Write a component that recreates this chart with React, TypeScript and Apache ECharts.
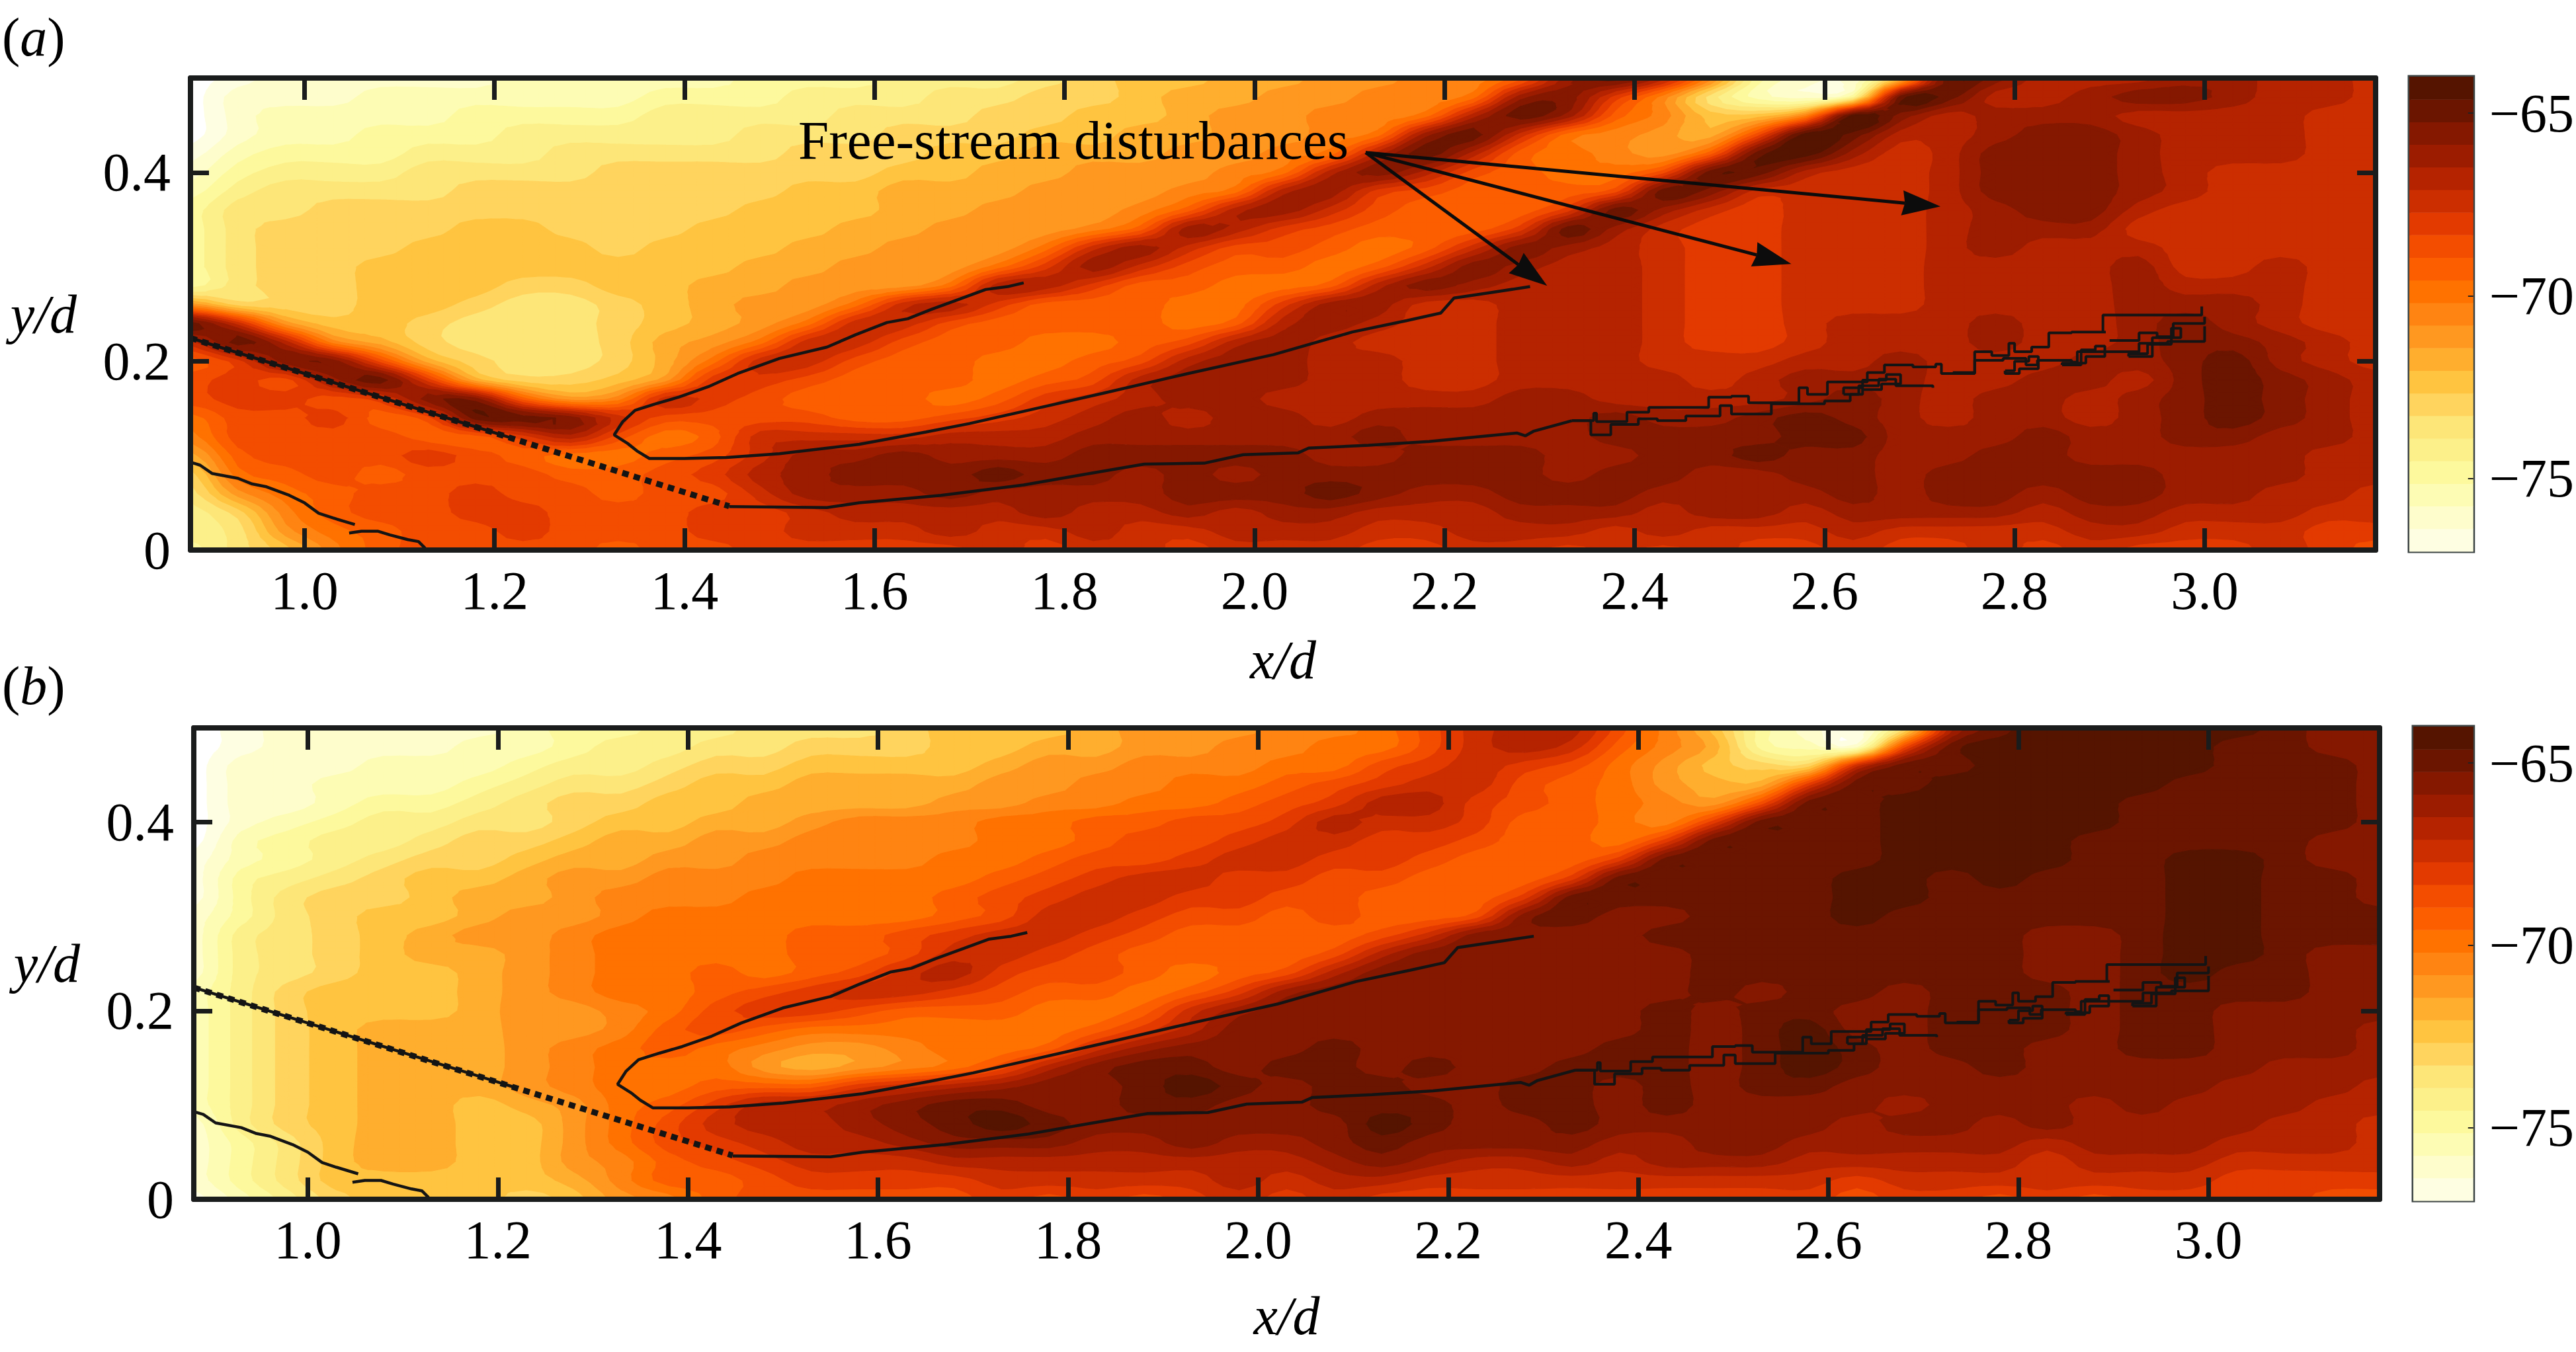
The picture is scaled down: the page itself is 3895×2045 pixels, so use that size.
import React, { useEffect, useRef } from "react";
import * as echarts from "echarts";

const FONT = "'Liberation Serif', 'Times New Roman', serif";
const FS = 82;

// Colour bands, palest first: each band is 13/21 dB wide between -77 and -64
const bandColors = ["#fefee2","#fefdcc","#fdfcb4","#fdf99d","#fcf08a","#fde678","#ffd45e","#ffc440","#ffae2e","#ff9820","#ff8412","#ff7200","#fc5e00","#f34d00","#e33a00","#cc2e00","#b52300","#9c1c00","#851800","#6b1500","#551400"];
const barMin = -77;
const barMax = -64;

const xTicks = [1.0,1.2,1.4,1.6,1.8,2.0,2.2,2.4,2.6,2.8,3.0];
const yTicks = [0,0.2,0.4];
const barTicks = [-75,-70,-65];

// Grid columns x/d = 0.88 + 0.05 i, rows y/d = 0.50, 0.48 ... 0.00; cells hold the band (-1 = white)
const xStart = 0.88, xStep = 0.05, yTop = 0.5, yStep = 0.02;

const panelA = [
[-1,0,1,1,1,1,1,2,2,2,2,2,3,3,3,4,4,4,5,6,7,7,8,8,9,9,10,10,12,17,19,16,10,3,1,1,7,19,18,16,16,16,17,17,16,16,15],
[-1,1,1,1,2,2,2,2,2,2,3,3,3,4,4,4,5,5,6,6,7,8,8,9,9,10,10,11,17,18,14,10,5,2,1,3,19,19,16,16,17,18,18,17,16,16,15],
[-1,1,2,2,2,2,3,3,3,3,4,4,4,4,5,5,5,6,6,7,7,8,9,9,10,10,11,16,19,17,12,10,7,7,10,20,18,16,17,17,17,16,16,16,16,15,15],
[-1,1,2,2,3,3,3,4,4,4,4,4,5,5,5,6,6,6,7,7,8,8,9,9,10,11,17,19,15,11,10,9,8,13,20,19,16,16,17,18,18,17,16,16,16,15,15],
[0,2,3,3,3,4,4,4,5,5,5,5,5,6,6,6,7,7,8,8,8,9,9,10,11,16,19,16,12,11,10,9,12,19,20,17,15,16,18,18,18,17,16,16,16,15,15],
[1,3,4,4,4,5,5,5,5,6,6,6,6,6,6,7,7,8,8,9,9,9,10,11,16,18,16,13,12,11,11,13,19,19,16,15,15,16,18,18,18,17,16,15,15,15,15],
[2,4,5,5,5,5,6,6,6,6,6,6,6,7,7,8,8,8,9,9,9,10,11,16,17,14,13,12,12,12,13,19,18,15,15,15,15,16,18,18,18,17,16,15,15,15,15],
[3,5,5,6,6,6,6,6,6,6,6,6,7,7,7,8,8,9,9,9,10,12,16,17,15,13,12,12,12,14,19,17,15,14,15,15,15,16,17,18,18,16,15,15,15,15,15],
[3,5,6,6,6,6,7,7,6,6,6,7,7,7,8,8,9,9,9,10,12,17,16,14,13,12,12,12,14,19,17,15,14,14,15,15,15,16,17,17,17,15,15,15,15,15,15],
[3,5,6,6,6,7,7,7,7,6,7,7,7,8,8,9,9,9,11,15,17,15,13,13,12,11,12,15,18,17,16,15,14,14,15,15,15,16,17,16,16,16,15,15,15,15,15],
[3,5,6,6,7,7,7,7,7,7,7,7,8,8,9,9,9,11,14,17,15,13,12,12,11,12,15,18,17,16,16,15,14,14,15,15,15,16,16,16,16,17,15,15,16,15,15],
[3,5,6,6,7,7,7,6,6,7,7,8,8,9,9,9,11,16,16,14,12,12,11,11,12,16,18,17,16,16,16,15,14,14,15,15,15,16,16,16,16,17,16,16,16,15,15],
[9,6,6,6,7,7,6,5,5,6,7,8,9,9,11,15,16,14,12,12,12,11,11,14,17,17,15,15,16,16,16,15,14,14,15,15,15,16,16,16,16,17,17,17,16,15,15],
[19,15,9,7,7,6,5,5,5,6,7,8,9,11,15,15,13,12,12,12,12,11,12,16,17,16,15,15,16,16,16,15,14,14,15,16,16,16,17,16,16,17,18,17,16,15,15],
[15,19,16,10,8,6,5,5,5,6,8,9,11,15,15,13,12,12,11,11,12,13,16,17,16,15,15,15,16,16,16,15,14,14,15,16,16,16,17,16,16,17,18,18,17,16,15],
[12,14,18,18,13,8,6,5,5,6,8,11,15,15,13,12,12,11,11,12,13,16,17,17,16,16,15,15,16,16,16,15,15,15,16,16,17,16,16,16,17,17,18,19,17,16,15],
[13,14,13,17,19,14,8,6,6,7,9,14,14,13,12,12,12,11,12,13,16,17,17,17,16,16,15,15,16,16,16,16,15,16,17,17,17,16,16,17,17,16,18,19,18,17,16],
[13,14,14,13,14,18,18,12,9,10,15,14,13,12,12,12,11,12,14,15,16,17,17,16,16,16,16,16,17,17,16,16,16,16,17,18,17,16,17,17,16,17,18,19,18,17,16],
[11,13,13,14,12,13,19,19,18,15,13,13,13,13,12,12,13,14,15,16,17,16,17,17,16,17,17,17,17,17,18,17,17,18,19,18,17,16,17,17,16,17,18,19,18,17,16],
[10,13,13,13,13,12,12,14,16,13,11,12,15,15,15,15,16,16,16,17,17,17,17,17,17,18,17,17,17,17,18,18,18,18,19,19,17,17,17,18,17,17,18,18,17,17,16],
[8,12,13,13,13,14,13,12,11,11,12,13,15,17,17,18,17,17,17,18,18,18,18,18,17,17,18,18,18,17,17,18,18,19,18,18,17,17,18,18,17,17,17,17,17,16,16],
[6,11,12,13,12,13,13,13,12,12,13,14,16,17,18,18,18,19,18,18,17,18,17,18,18,18,18,18,18,17,18,18,17,17,18,18,17,18,18,18,18,18,17,17,17,16,16],
[5,9,11,12,13,13,14,13,13,12,13,13,15,17,17,17,18,17,17,17,17,18,18,18,19,18,17,17,18,18,18,17,17,17,17,18,17,18,18,17,18,18,17,17,16,16,15],
[4,6,10,12,13,13,14,14,13,13,13,14,14,15,16,16,16,16,17,16,16,17,16,17,17,16,16,16,17,17,17,16,17,17,16,17,17,17,17,16,17,17,16,16,16,15,15],
[4,5,9,11,12,13,13,14,13,13,13,14,14,15,15,15,16,15,15,16,15,15,16,16,16,15,15,16,16,16,15,16,15,15,15,16,15,15,15,15,16,16,15,15,15,14,14],
[3,5,7,10,12,13,13,13,13,12,13,13,14,14,14,14,14,15,14,15,15,14,15,15,15,14,14,15,15,14,15,14,15,14,14,15,14,14,15,14,15,14,14,14,15,14,13],
];

const panelB = [
[-1,0,1,1,1,1,1,2,3,3,4,4,5,5,5,6,7,7,7,8,9,9,9,10,10,11,13,15,16,16,13,10,7,3,1,0,5,16,19,20,20,20,20,20,19,18,18],
[-1,0,1,1,1,1,2,2,3,4,4,5,5,6,6,6,7,7,8,8,9,9,10,10,11,11,13,15,16,15,12,10,8,3,2,1,13,19,20,20,20,20,20,19,19,18,18],
[-1,1,1,1,2,2,2,3,4,4,5,6,6,7,7,7,7,8,9,9,10,10,10,11,11,13,14,15,14,13,11,9,7,6,6,15,19,19,20,20,20,20,20,19,19,19,18],
[-1,1,1,2,2,2,3,4,5,5,6,7,7,8,8,8,8,9,9,10,10,11,11,12,13,14,15,15,13,12,11,9,8,8,14,19,19,20,20,20,20,20,19,19,19,19,18],
[-1,1,1,2,3,3,4,5,6,6,7,7,8,8,8,8,9,9,10,10,11,11,12,13,14,16,16,14,13,12,11,10,9,13,19,19,20,20,20,20,20,19,19,19,19,19,18],
[-1,1,2,3,4,4,5,5,6,7,7,8,8,9,10,10,10,11,11,12,12,13,13,14,16,15,15,14,12,12,11,10,14,19,19,19,20,20,20,20,20,19,19,19,19,19,18],
[-1,2,3,4,4,5,6,6,7,8,8,9,9,10,10,10,10,11,11,12,13,13,14,15,15,14,14,13,12,12,11,14,19,19,19,19,20,20,20,20,19,19,19,19,19,18,18],
[0,2,3,4,5,6,6,7,8,8,9,9,10,10,10,10,11,11,12,13,13,14,15,15,14,14,13,12,12,12,14,19,19,19,19,19,20,20,20,20,19,19,20,20,19,18,18],
[0,3,4,5,6,7,7,8,9,9,10,10,10,11,11,11,11,12,13,14,15,15,14,14,13,13,12,12,12,14,19,19,19,19,19,20,20,19,20,19,19,19,20,20,19,19,18],
[0,3,5,6,6,7,8,8,9,10,10,10,11,11,11,11,12,13,14,15,15,14,14,13,13,12,12,12,14,19,19,19,19,19,19,20,20,19,19,19,19,19,20,20,19,19,18],
[1,3,5,6,7,7,8,9,9,10,11,11,11,11,11,11,12,13,15,15,14,13,13,12,13,12,12,13,18,19,18,18,19,19,19,20,19,19,19,19,19,19,20,20,19,19,19],
[1,4,5,6,7,8,9,9,10,11,11,11,11,12,12,13,14,15,15,14,13,12,12,12,12,13,15,18,18,18,18,19,19,19,19,19,19,19,19,18,18,19,20,20,19,19,19],
[1,4,5,6,7,8,8,9,10,11,11,11,11,12,12,13,15,15,14,13,12,12,12,12,13,16,18,18,18,18,18,18,19,19,19,19,19,19,19,18,18,19,20,20,19,18,18],
[1,4,5,6,7,7,8,9,10,11,11,12,11,12,13,15,16,14,13,13,12,11,12,13,16,18,18,18,18,18,18,18,19,19,19,19,19,19,19,18,18,19,20,19,19,18,18],
[2,4,6,7,7,7,8,9,10,11,11,12,13,14,15,15,14,13,12,12,11,12,14,17,18,18,18,18,18,18,18,18,19,18,19,19,18,19,19,19,18,19,19,19,19,18,18],
[2,4,6,7,7,7,8,9,9,10,11,13,14,14,13,12,12,12,11,11,12,15,17,18,18,18,18,18,18,18,18,19,18,19,19,18,18,19,19,19,18,19,19,18,18,18,18],
[2,4,6,7,8,8,8,9,9,10,12,13,12,11,11,11,11,11,11,12,14,16,18,18,18,18,18,18,18,18,18,19,18,19,20,18,18,19,19,19,18,19,19,18,18,18,17],
[2,4,6,7,8,8,8,9,10,11,12,11,10,9,9,10,11,11,12,15,17,18,18,18,19,18,18,18,18,18,19,19,18,19,20,19,18,19,19,18,18,19,19,18,18,18,17],
[2,4,6,7,8,8,8,9,10,11,11,11,9,8,9,10,11,13,16,18,19,19,18,19,19,18,19,18,18,19,19,19,18,19,20,19,18,18,19,18,18,18,18,18,17,17,17],
[2,4,6,7,8,8,8,9,10,11,11,12,12,12,14,15,16,17,18,18,19,20,19,18,19,19,18,18,19,19,18,19,18,19,19,18,18,18,18,18,18,18,18,17,17,17,16],
[2,4,6,7,8,8,7,8,9,11,12,14,16,16,17,18,19,19,18,18,19,19,18,18,19,19,19,18,19,19,18,19,18,18,18,18,17,18,18,18,17,18,17,17,17,16,16],
[1,4,6,7,8,8,7,7,9,11,13,15,16,16,17,18,19,20,19,18,18,18,18,18,18,20,19,18,18,19,18,18,18,18,18,17,18,18,17,18,17,17,17,17,16,16,15],
[1,3,5,7,8,8,7,7,9,11,13,14,15,16,16,17,18,18,18,17,17,18,17,17,18,19,18,18,18,18,17,17,18,18,17,17,17,17,17,16,17,17,17,16,16,16,15],
[1,3,5,7,8,8,7,7,9,10,12,13,14,15,15,15,16,16,16,16,16,16,16,16,17,18,17,16,16,17,16,17,17,17,16,16,16,16,16,15,16,16,16,15,15,15,15],
[1,3,5,7,7,7,7,7,8,10,12,12,13,14,14,14,14,15,15,15,15,15,16,15,16,16,15,15,15,15,15,15,15,15,15,14,15,15,15,15,15,15,15,14,14,14,14],
[0,2,4,6,7,7,7,6,7,9,10,12,13,13,13,13,13,14,13,14,13,14,15,14,15,14,14,14,14,14,14,14,14,14,14,13,14,14,13,14,13,14,14,14,14,13,13],
];

// Black contour traces, x/d and y/d
const traceShear = [[1.757,0.283],[1.74,0.279],[1.717,0.276],[1.69,0.266],[1.66,0.255],[1.635,0.245],[1.613,0.241],[1.58,0.228],[1.55,0.215],[1.50,0.203],[1.456,0.187],[1.425,0.173],[1.394,0.162],[1.37,0.155],[1.348,0.148],[1.335,0.136],[1.326,0.122],[1.34,0.113],[1.35,0.105],[1.363,0.097],[1.40,0.097],[1.444,0.098],[1.50,0.102],[1.584,0.112],[1.654,0.125],[1.70,0.134],[1.757,0.147],[1.84,0.166],[1.93,0.187],[2.02,0.207],[2.103,0.231],[2.16,0.243],[2.196,0.251],[2.21,0.267],[2.25,0.273],[2.29,0.279]];
const traceBody = [[1.447,0.046],[1.55,0.045],[1.584,0.05],[1.67,0.058],[1.757,0.069],[1.82,0.08],[1.884,0.091],[1.947,0.092],[1.988,0.101],[2.046,0.103],[2.057,0.108],[2.12,0.111],[2.184,0.115],[2.276,0.124],[2.285,0.121],[2.294,0.126],[2.334,0.137]];
const traceUpper = [[2.334,0.137],[2.357,0.145],[2.36,0.136],[2.392,0.146],[2.415,0.151],[2.454,0.151],[2.478,0.162],[2.502,0.163],[2.52,0.156],[2.544,0.156],[2.573,0.172],[2.582,0.165],[2.603,0.178],[2.633,0.178],[2.645,0.188],[2.663,0.196],[2.693,0.194],[2.717,0.197],[2.723,0.187],[2.741,0.187],[2.758,0.21],[2.776,0.206],[2.794,0.219],[2.8,0.21],[2.818,0.215],[2.836,0.23],[2.86,0.231],[2.896,0.231],[2.893,0.249],[2.949,0.249],[2.979,0.249],[2.997,0.258]];
const traceLower = [[2.334,0.137],[2.354,0.122],[2.375,0.133],[2.404,0.139],[2.424,0.137],[2.454,0.142],[2.472,0.142],[2.49,0.153],[2.502,0.144],[2.544,0.155],[2.6,0.158],[2.627,0.165],[2.636,0.174],[2.657,0.181],[2.675,0.174],[2.714,0.172]];
const traceLowerB = [[2.735,0.188],[2.758,0.201],[2.788,0.203],[2.812,0.196],[2.824,0.201],[2.86,0.199],[2.866,0.21],[2.913,0.21],[2.931,0.219],[2.961,0.221],[3.0,0.237]];
const traceLowerC = [[2.9,0.222],[2.931,0.23],[2.95,0.226],[2.967,0.24],[3.0,0.247]];
const traceLoopA = [[2.62,0.165],[2.64,0.18],[2.665,0.186],[2.68,0.176],[2.66,0.17],[2.64,0.172],[2.62,0.165]];
const traceLoopB = [[2.79,0.19],[2.8,0.2],[2.815,0.205],[2.825,0.192],[2.805,0.187],[2.79,0.19]];
const traceLoopC = [[2.85,0.196],[2.87,0.212],[2.885,0.216],[2.895,0.205],[2.875,0.198],[2.85,0.196]];
const traceLoopD = [[2.92,0.205],[2.945,0.225],[2.975,0.235],[2.965,0.218],[2.94,0.208],[2.92,0.205]];
const traceLeftA = [[0.88,0.093],[0.89,0.09],[0.903,0.081],[0.93,0.076],[0.945,0.07],[0.96,0.067],[0.984,0.058],[1.0,0.05],[1.015,0.039],[1.03,0.034],[1.053,0.027]];
const traceLeftB = [[1.047,0.018],[1.06,0.02],[1.077,0.02],[1.09,0.016],[1.109,0.011],[1.12,0.009],[1.127,0.002]];
const traceShock = [[0.88,0.2246],[1.22,0.118]];
const traceDotted = [[0.88,0.2246],[1.447,0.0465]];
const roughTraces = [traceUpper, traceLower, traceLowerB, traceLowerC, traceLoopA, traceLoopB, traceLoopC, traceLoopD];
const smoothTraces = [traceShear, traceBody, traceShock, traceLeftA, traceLeftB];

const arrowFrom = [2.117, 0.421];
const arrowTips = [[2.308,0.28],[2.565,0.303],[2.722,0.364]];

type P = [number, number, number];
type Ring = number[][];

// Contour rendering: Catmull-Rom through the table, then bands cut out of each triangle
const FINE = 3;
function cr(a: number, b: number, c: number, d: number, t: number) {
  return b + 0.5 * t * (c - a + t * (2 * a - 5 * b + 4 * c - d + t * (3 * (b - c) + d - a)));
}
function smoothField(rows: number[][]): number[][] {
  const R = rows.length, C = rows[0].length;
  const at = (r: number, c: number) => rows[Math.max(0, Math.min(R - 1, r))][Math.max(0, Math.min(C - 1, c))];
  const out: number[][] = [];
  for (let fr = 0; fr <= (R - 1) * FINE; fr++) {
    const r0 = Math.min(Math.floor(fr / FINE), R - 2), tr = fr / FINE - r0;
    const line: number[] = [];
    for (let fc = 0; fc <= (C - 1) * FINE; fc++) {
      const c0 = Math.min(Math.floor(fc / FINE), C - 2), tc = fc / FINE - c0;
      const col = [-1, 0, 1, 2].map((dr) => cr(at(r0 + dr, c0 - 1), at(r0 + dr, c0), at(r0 + dr, c0 + 1), at(r0 + dr, c0 + 2), tc));
      line.push(cr(col[0], col[1], col[2], col[3], tr));
    }
    out.push(line);
  }
  return out;
}

function clip(poly: P[], limit: number, keepAbove: boolean): P[] {
  const out: P[] = [];
  for (let i = 0; i < poly.length; i++) {
    const a = poly[i], b = poly[(i + 1) % poly.length];
    const ina = keepAbove ? a[2] >= limit : a[2] <= limit;
    const inb = keepAbove ? b[2] >= limit : b[2] <= limit;
    if (ina) out.push(a);
    if (ina !== inb) {
      const t = (limit - a[2]) / (b[2] - a[2]);
      out.push([a[0] + t * (b[0] - a[0]), a[1] + t * (b[1] - a[1]), limit]);
    }
  }
  return out;
}

function bandRings(rows: number[][]): Ring[][] {
  const fine = smoothField(rows);
  const bands: Ring[][] = bandColors.map(() => []);
  const dx = xStep / FINE, dy = yStep / FINE;
  const node = (r: number, c: number): P => [xStart + dx * c, yTop - dy * r, fine[r][c]];
  const top = bandColors.length - 1;
  const idx = (v: number) => Math.round(Math.min(v, top));
  const addPoly = (t: P[]) => {
    const vals = t.map((p) => p[2]);
    const lo = idx(Math.min(...vals));
    const hi = idx(Math.max(...vals));
    for (let k = Math.max(lo, 0); k <= hi; k++) {
      let poly = t;
      if (lo !== hi) {
        if (k > lo) poly = clip(poly, k - 0.5, true);
        if (poly.length && k < hi) poly = clip(poly, k + 0.5, false);
      }
      if (poly.length >= 3) bands[k].push(poly.map((p) => [p[0], p[1]]));
    }
  };
  for (let r = 0; r < fine.length - 1; r++) {
    for (let c = 0; c < fine[0].length - 1; c++) {
      const a = node(r, c), b = node(r, c + 1), d = node(r + 1, c), e = node(r + 1, c + 1);
      const ka = idx(a[2]);
      if (ka === idx(b[2]) && ka === idx(d[2]) && ka === idx(e[2])) {
        addPoly([a, b, e, d]);
      } else if (Math.abs(a[2] - e[2]) <= Math.abs(b[2] - d[2])) {
        addPoly([a, b, e]);
        addPoly([a, e, d]);
      } else {
        addPoly([a, b, d]);
        addPoly([b, e, d]);
      }
    }
  }
  return bands;
}

const ringsA = bandRings(panelA);
const ringsB = bandRings(panelB);

echarts.graphic.registerShape(
  "bandArea",
  echarts.graphic.extendShape({
    shape: { rings: [] as number[][][] },
    buildPath(ctx: any, shape: any) {
      for (const ring of shape.rings) {
        ctx.moveTo(ring[0][0], ring[0][1]);
        for (let i = 1; i < ring.length; i++) ctx.lineTo(ring[i][0], ring[i][1]);
        ctx.closePath();
      }
    },
  }) as any
);

function contourSeries(rings: Ring[][], axis: number) {
  return {
    type: "custom",
    xAxisIndex: axis,
    yAxisIndex: axis,
    silent: true,
    clip: false,
    z: 2,
    data: bandColors.map((_, k) => [xStart, k]),
    renderItem: (params: any, api: any) => {
      const k = params.dataIndex;
      const fill = bandColors[k];
      return {
        type: "bandArea",
        shape: { rings: rings[k].map((ring) => ring.map((q) => api.coord(q))) },
        style: { fill, stroke: fill, lineWidth: 1.2 },
      };
    },
  };
}

function lineSeries(axis: number) {
  const base = { type: "line", xAxisIndex: axis, yAxisIndex: axis, showSymbol: false, symbol: "none", silent: true, z: 4, clip: false };
  const out: any[] = [];
  smoothTraces.forEach((t) => out.push({ ...base, data: t, lineStyle: { color: "#141414", width: 4.5 } }));
  roughTraces.forEach((t) => out.push({ ...base, data: t, step: "end", lineStyle: { color: "#141414", width: 4 } }));
  out.push({ ...base, data: traceDotted, lineStyle: { color: "#141414", width: 9, type: [10, 8] } });
  return out;
}

function arrowSeries() {
  return {
    type: "custom",
    xAxisIndex: 0,
    yAxisIndex: 0,
    silent: true,
    clip: false,
    z: 5,
    data: arrowTips,
    renderItem: (params: any, api: any) => {
      const from = api.coord(arrowFrom);
      const tip = api.coord(arrowTips[params.dataIndex]);
      const dx = tip[0] - from[0], dy = tip[1] - from[1];
      const len = Math.hypot(dx, dy);
      const ux = dx / len, uy = dy / len;
      const bx = tip[0] - ux * 58, by = tip[1] - uy * 58;
      const hw = 19;
      return {
        type: "group",
        children: [
          { type: "line", shape: { x1: from[0], y1: from[1], x2: bx + ux * 4, y2: by + uy * 4 }, style: { stroke: "#0c0c0c", lineWidth: 5 } },
          { type: "polygon", shape: { points: [tip, [bx - uy * hw, by + ux * hw], [bx + ux * 4, by + uy * 4], [bx + uy * hw, by - ux * hw]] }, style: { fill: "#0c0c0c" } },
        ],
      };
    },
  };
}

function barSeries(axis: number) {
  const step = (barMax - barMin) / bandColors.length;
  return {
    type: "custom",
    xAxisIndex: axis,
    yAxisIndex: axis,
    silent: true,
    clip: false,
    z: 3,
    data: bandColors.map((_, i) => [0, barMin + i * step]),
    renderItem: (params: any, api: any) => {
      const i = params.dataIndex;
      const p0 = api.coord([0, barMin + i * step]);
      const p1 = api.coord([1, barMin + (i + 1) * step]);
      return {
        type: "rect",
        shape: { x: p0[0], y: p1[1], width: p1[0] - p0[0], height: p0[1] - p1[1] + 0.5 },
        style: { fill: bandColors[i] },
      };
    },
  };
}

function xAxes(gridIndex: number, nameGap: number) {
  const common = {
    type: "value", gridIndex, min: xStart, max: 3.18, z: 10, splitLine: { show: false },
    axisLine: { show: true, onZero: false, lineStyle: { color: "#1a1c1c", width: 8 } },
    axisTick: { show: true, inside: true, length: 33, customValues: xTicks, lineStyle: { color: "#1a1c1c", width: 7 } },
  };
  return [
    { ...common, position: "bottom", name: "x/d", nameLocation: "middle", nameGap,
      nameTextStyle: { fontFamily: FONT, fontSize: FS, fontStyle: "italic", color: "#000" },
      axisLabel: { show: true, customValues: xTicks, margin: 20, fontFamily: FONT, fontSize: FS, color: "#000", formatter: (v: number) => v.toFixed(1) } },
    { ...common, position: "top", axisLabel: { show: false } },
  ];
}

function yAxes(gridIndex: number) {
  const common = {
    type: "value", gridIndex, min: 0, max: 0.5, z: 10, splitLine: { show: false },
    axisLine: { show: true, onZero: false, lineStyle: { color: "#1a1c1c", width: 8 } },
    axisTick: { show: true, inside: true, length: 28, customValues: yTicks, lineStyle: { color: "#1a1c1c", width: 7 } },
  };
  return [
    { ...common, position: "left", name: "y/d", nameLocation: "middle", nameRotate: 0, nameGap: 172,
      nameTextStyle: { fontFamily: FONT, fontSize: FS, fontStyle: "italic", color: "#000" },
      axisLabel: { show: true, customValues: yTicks, margin: 30, fontFamily: FONT, fontSize: FS, color: "#000", formatter: (v: number) => (v === 0 ? "0" : v.toFixed(1)) } },
    { ...common, position: "right", axisLabel: { show: false } },
  ];
}

function barX(gridIndex: number) {
  return { type: "value", gridIndex, min: 0, max: 1, show: false };
}
function barY(gridIndex: number) {
  return {
    type: "value", gridIndex, min: barMin, max: barMax, position: "right", z: 10, splitLine: { show: false },
    axisLine: { show: false, onZero: false },
    axisTick: { show: true, inside: true, length: 8, customValues: barTicks, lineStyle: { color: "#222", width: 2 } },
    axisLabel: { show: true, customValues: barTicks, margin: 24, fontFamily: FONT, fontSize: FS, color: "#000", formatter: (v: number) => "\u2212" + Math.abs(v) },
  };
}

function panelLabel(letter: string, y: number) {
  return {
    type: "text", left: 3, top: y, silent: true, z: 20,
    style: {
      text: `{n|(}{i|${letter}}{n|)}`,
      rich: {
        n: { fontFamily: FONT, fontSize: FS, fill: "#000" },
        i: { fontFamily: FONT, fontSize: FS, fontStyle: "italic", fill: "#000" },
      },
    },
  };
}

export default function App() {
  const ref = useRef<HTMLDivElement>(null);
  useEffect(() => {
    const chart = echarts.init(ref.current!, null, { renderer: "svg" });
    chart.setOption({
      animation: false,
      backgroundColor: "#ffffff",
      grid: [
        { left: 288, top: 118, width: 3304, height: 714 },
        { left: 293, top: 1101, width: 3305, height: 713 },
        { left: 3643, top: 116, width: 100, height: 718, show: true, borderColor: "#3c4444", borderWidth: 5, backgroundColor: "transparent" },
        { left: 3649, top: 1099, width: 100, height: 717, show: true, borderColor: "#3c4444", borderWidth: 5, backgroundColor: "transparent" },
      ],
      xAxis: [...xAxes(0, 125), ...xAxes(1, 135)].map((a, i) => ({ ...a, gridIndex: i < 2 ? 0 : 1 })).concat([barX(2) as any, barX(3) as any]),
      yAxis: [...yAxes(0), ...yAxes(1)].map((a, i) => ({ ...a, gridIndex: i < 2 ? 0 : 1 })).concat([barY(2) as any, barY(3) as any]),
      series: [
        contourSeries(ringsA, 0),
        contourSeries(ringsB, 2),
        ...lineSeries(0),
        ...lineSeries(2),
        arrowSeries(),
        barSeries(4),
        barSeries(5),
      ],
      graphic: [
        panelLabel("a", 15),
        panelLabel("b", 996),
        { type: "text", left: 1207, top: 170, silent: true, z: 20, style: { text: "Free-stream disturbances", fontFamily: FONT, fontSize: 83, fill: "#000" } },
      ],
    });
    return () => chart.dispose();
  }, []);
  return <div ref={ref} style={{ position: "absolute", left: 0, top: 0, width: 3895, height: 2045 }} />;
}
